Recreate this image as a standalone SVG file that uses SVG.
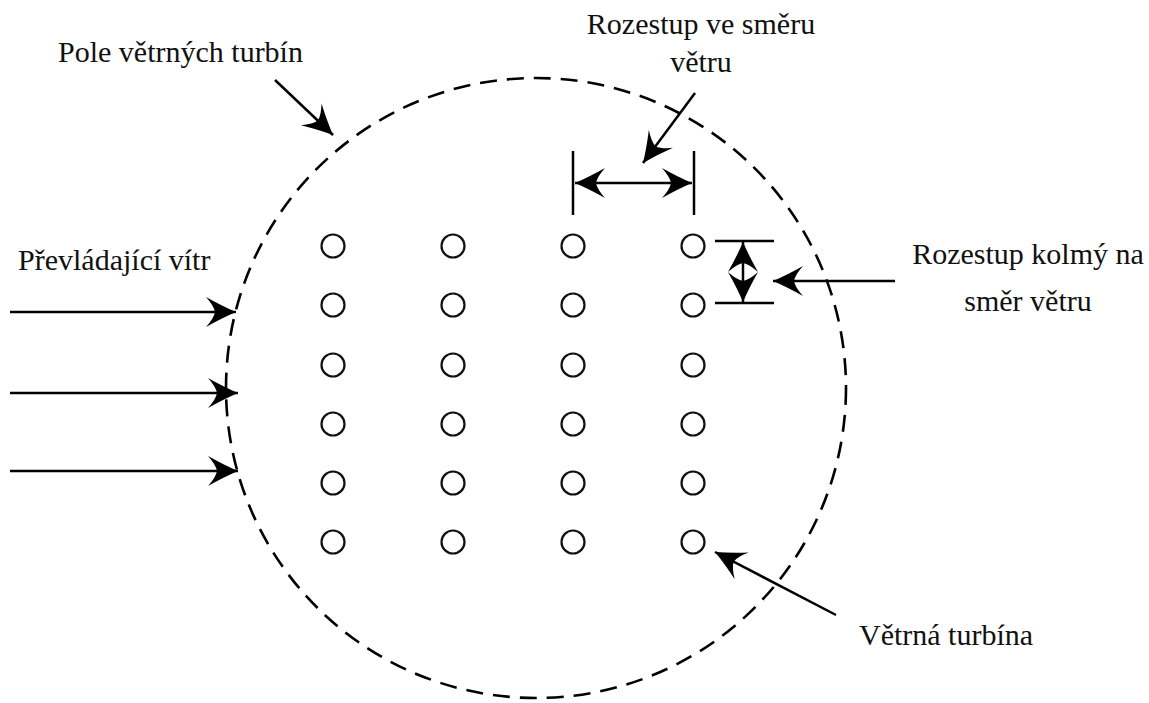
<svg xmlns="http://www.w3.org/2000/svg" width="1149" height="703" viewBox="0 0 1149 703">
<style>
.t{font-family:'Liberation Serif','Times New Roman',serif;font-size:30px;fill:#111}
.ln{stroke:#000;stroke-width:2.5;fill:none}
.tb{fill:#fff;stroke:#111;stroke-width:2.2}
.field{fill:none;stroke:#000;stroke-width:2.6;stroke-dasharray:17 10}
</style>
<defs>
<marker id="ah" markerUnits="userSpaceOnUse" markerWidth="40" markerHeight="40" refX="0" refY="0" orient="auto-start-reverse" overflow="visible">
<path d="M0,0 Q-14,-6 -30,-15 Q-22,-6 -21,0 Q-22,6 -30,15 Q-14,6 0,0 Z" fill="#000"/>
</marker>
</defs>
<rect width="1149" height="703" fill="#fff"/>
<g id="field">
<circle class="field" cx="536" cy="388" r="310"/>
</g>
<g id="turbines">
<g id="c1">
<circle class="tb" cx="333" cy="246" r="11.5"/><circle class="tb" cx="333" cy="305" r="11.5"/><circle class="tb" cx="333" cy="365" r="11.5"/><circle class="tb" cx="333" cy="424" r="11.5"/><circle class="tb" cx="333" cy="483" r="11.5"/><circle class="tb" cx="333" cy="542" r="11.5"/>
</g>
<g id="c2">
<circle class="tb" cx="453" cy="246" r="11.5"/><circle class="tb" cx="453" cy="305" r="11.5"/><circle class="tb" cx="453" cy="365" r="11.5"/><circle class="tb" cx="453" cy="424" r="11.5"/><circle class="tb" cx="453" cy="483" r="11.5"/><circle class="tb" cx="453" cy="542" r="11.5"/>
</g>
<g id="c3">
<circle class="tb" cx="573" cy="246" r="11.5"/><circle class="tb" cx="573" cy="305" r="11.5"/><circle class="tb" cx="573" cy="365" r="11.5"/><circle class="tb" cx="573" cy="424" r="11.5"/><circle class="tb" cx="573" cy="483" r="11.5"/><circle class="tb" cx="573" cy="542" r="11.5"/>
</g>
<g id="c4">
<circle class="tb" cx="693" cy="246" r="11.5"/><circle class="tb" cx="693" cy="305" r="11.5"/><circle class="tb" cx="693" cy="365" r="11.5"/><circle class="tb" cx="693" cy="424" r="11.5"/><circle class="tb" cx="693" cy="483" r="11.5"/><circle class="tb" cx="693" cy="542" r="11.5"/>
</g>
</g>
<g id="connectors">
<line class="ln" x1="10" y1="312" x2="236" y2="312" marker-end="url(#ah)"/>
<line class="ln" x1="10" y1="393" x2="238" y2="393" marker-end="url(#ah)"/>
<line class="ln" x1="10" y1="471" x2="238" y2="471" marker-end="url(#ah)"/>
<line class="ln" x1="275" y1="80" x2="333" y2="135" marker-end="url(#ah)"/>
<line class="ln" x1="695" y1="93" x2="643" y2="163" marker-end="url(#ah)"/>
<line class="ln" x1="573" y1="151" x2="573" y2="215"/>
<line class="ln" x1="694" y1="151" x2="694" y2="215"/>
<line class="ln" x1="575" y1="183" x2="692" y2="183" marker-start="url(#ah)" marker-end="url(#ah)"/>
<line class="ln" x1="715" y1="241" x2="774" y2="241"/>
<line class="ln" x1="715" y1="303" x2="774" y2="303"/>
<line class="ln" x1="743" y1="242" x2="743" y2="302" marker-start="url(#ah)" marker-end="url(#ah)"/>
<line class="ln" x1="895" y1="281" x2="773" y2="281" marker-end="url(#ah)"/>
<line class="ln" x1="836" y1="615" x2="715" y2="552" marker-end="url(#ah)"/>
</g>
<g id="labels">
<text class="t" x="58" y="62">Pole větrných turbín</text>
<text class="t" x="701" y="34" text-anchor="middle">Rozestup ve směru</text>
<text class="t" x="701" y="72" text-anchor="middle">větru</text>
<text class="t" x="18" y="270">Převládající vítr</text>
<text class="t" x="1028" y="264" text-anchor="middle">Rozestup kolmý na</text>
<text class="t" x="1028" y="311" text-anchor="middle">směr větru</text>
<text class="t" x="859" y="645">Větrná turbína</text>
</g>
</svg>
